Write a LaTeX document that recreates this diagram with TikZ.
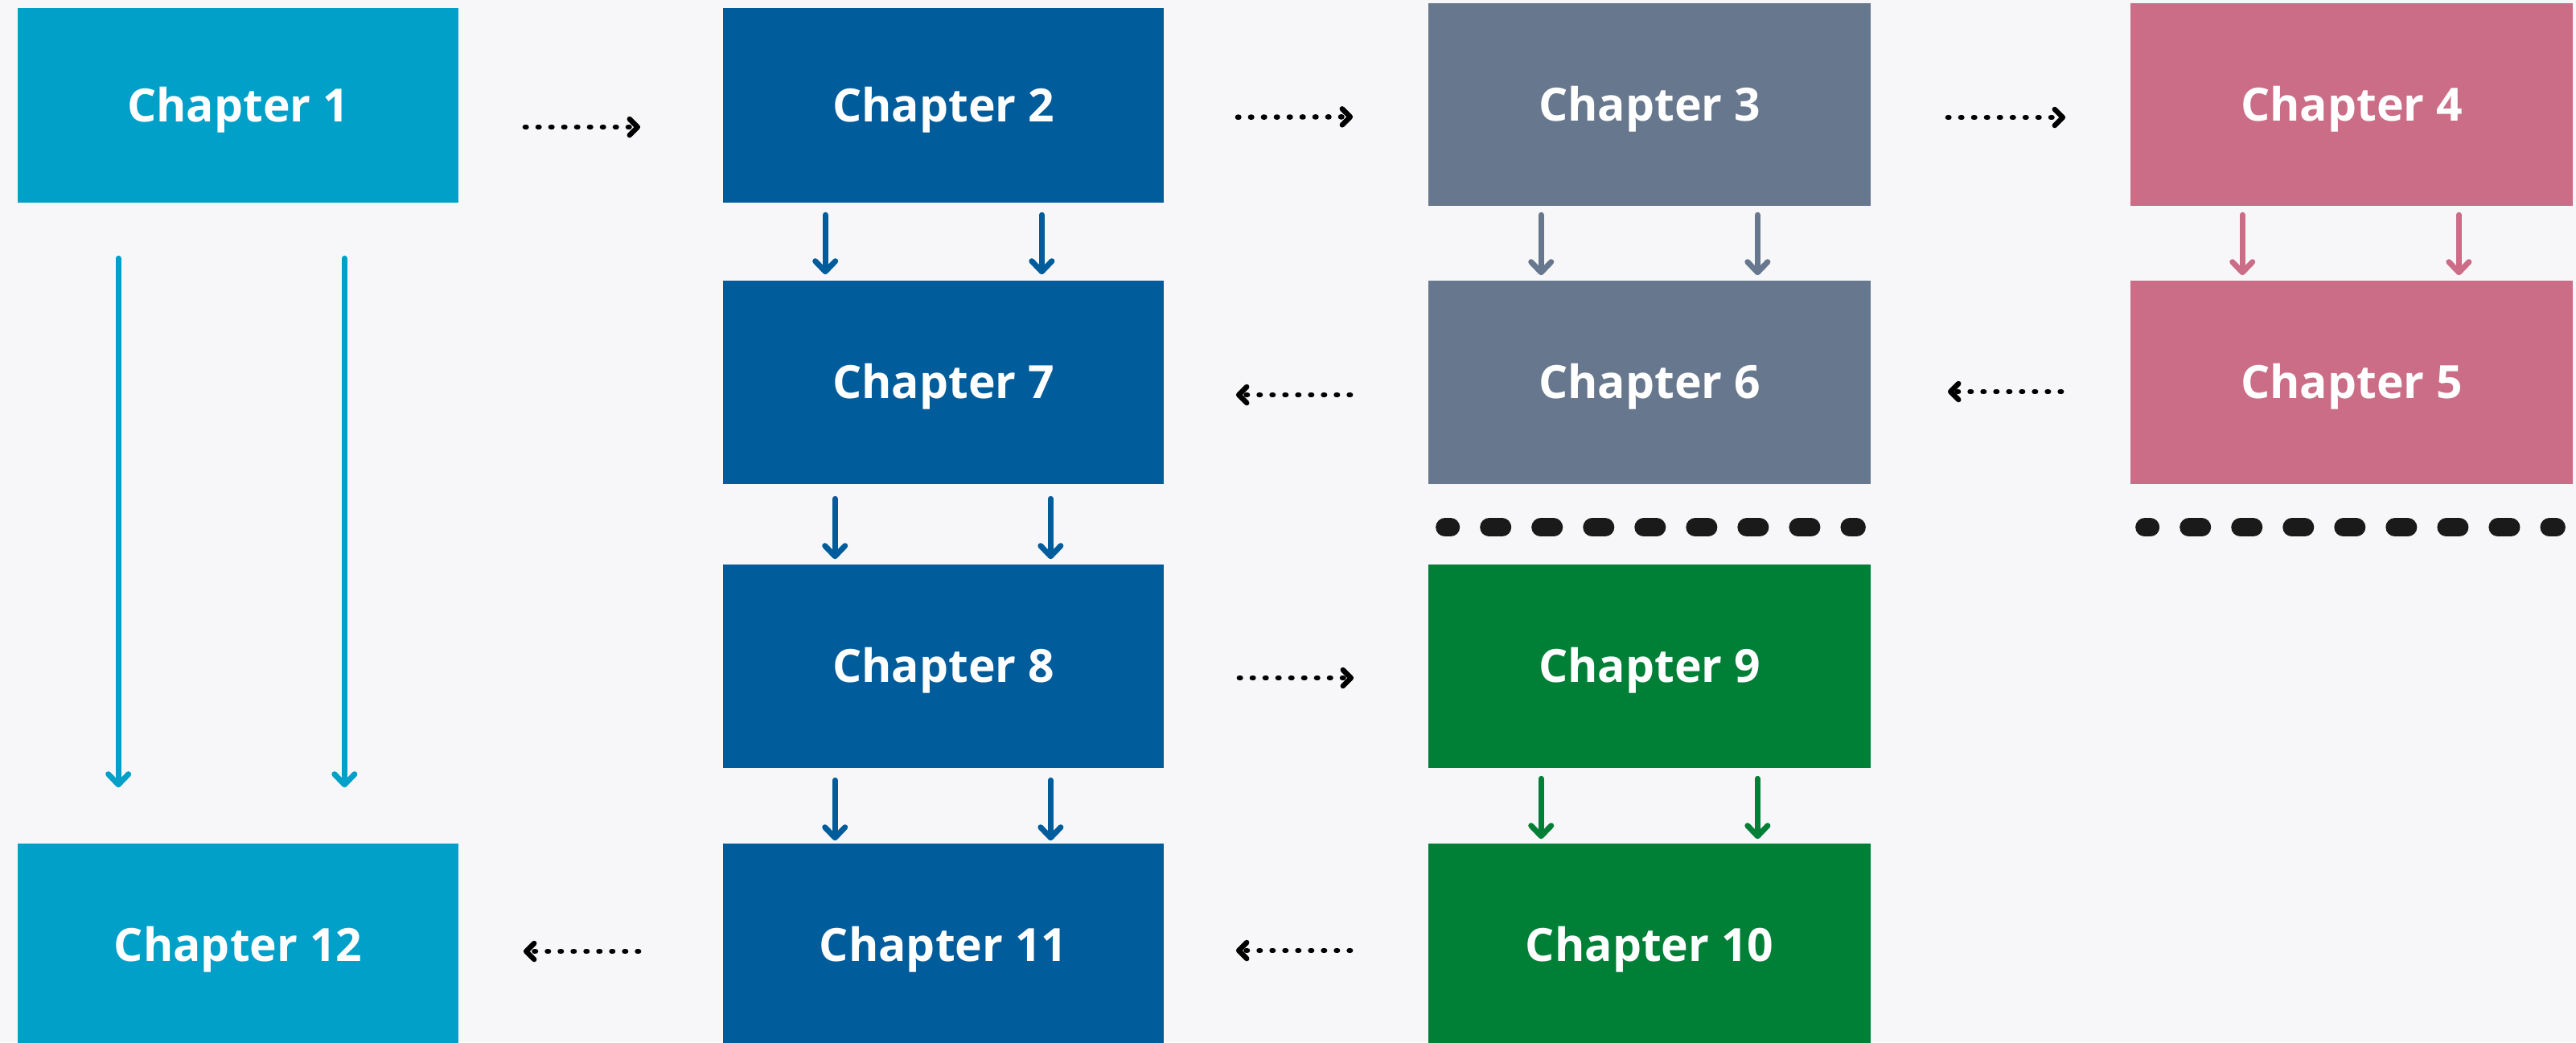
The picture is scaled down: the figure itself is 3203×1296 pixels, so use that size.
\documentclass[tikz,border=0pt]{standalone}
\usepackage{fontspec}
\setmainfont{Open Sans}
\usetikzlibrary{arrows.meta}
\definecolor{bgc}{HTML}{F7F7F9}
\definecolor{cA}{HTML}{00A0C8}
\definecolor{cB}{HTML}{005C9B}
\definecolor{cC}{HTML}{67778E}
\definecolor{cD}{HTML}{CB6D86}
\definecolor{cE}{HTML}{007F37}
\definecolor{dk}{HTML}{1A1A1A}
\begin{document}
\begin{tikzpicture}[x=0.01cm,y=-0.01cm,
  box/.style={rectangle, inner sep=0pt, text=white,
    font=\fontsize{16.2}{19}\selectfont\bfseries,
    text height=0.407cm, text depth=0pt},
  wbox/.style={box, minimum width=5.48cm},
  wboxb/.style={box, minimum width=5.50cm},
  sarrow/.style={line width=0.07cm, line cap=round,
    -{Straight Barb[length=0.13cm,width=0.25cm,round]}},
  darrow/.style={line width=0.065cm, line cap=round, black,
    dash pattern=on 0.015cm off 0.145cm,
    -{Straight Barb[length=0.1cm,width=0.2cm,round]}},
  bigdash/.style={line width=0.23cm, line cap=round, dk,
    dash pattern=on 0.16cm off 0.48cm, dash phase=0.09cm}]
\fill[bgc] (0,0) rectangle (3203,1296);
\useasboundingbox (0,0) rectangle (3203,1296);

% boxes
\node[wbox, fill=cA, minimum height=2.42cm] (ch1) at (296,131) {Chapter 1};
\node[wbox, fill=cB, minimum height=2.42cm] (ch2) at (1173,131) {Chapter 2};
\node[wboxb, fill=cC, minimum height=2.52cm] (ch3) at (2051,130) {Chapter 3};
\node[wboxb, fill=cD, minimum height=2.52cm] (ch4) at (2924,130) {Chapter 4};
\node[wbox, fill=cB, minimum height=2.53cm] (ch7) at (1173,475.5) {Chapter 7};
\node[wboxb, fill=cC, minimum height=2.53cm] (ch6) at (2051,475.5) {Chapter 6};
\node[wboxb, fill=cD, minimum height=2.53cm] (ch5) at (2924,475.5) {Chapter 5};
\node[wbox, fill=cB, minimum height=2.53cm] (ch8) at (1173,828.5) {Chapter 8};
\node[wboxb, fill=cE, minimum height=2.53cm] (ch9) at (2051,828.5) {Chapter 9};
\node[wbox, fill=cA, minimum height=2.53cm] (ch12) at (296,1175.5) {Chapter 12};
\node[wbox, fill=cB, minimum height=2.53cm] (ch11) at (1173,1175.5) {Chapter 11};
\node[wboxb, fill=cE, minimum height=2.53cm] (ch10) at (2051,1175.5) {Chapter 10};

% solid vertical arrows
\draw[sarrow, cA, shorten <=0.685cm, shorten >=0.69cm] ([xshift=1.26cm]ch1.south west) -- ([xshift=1.26cm]ch12.north west);
\draw[sarrow, cA, shorten <=0.685cm, shorten >=0.69cm] ([xshift=4.07cm]ch1.south west) -- ([xshift=4.07cm]ch12.north west);

\draw[sarrow, cB, shorten <=0.145cm, shorten >=0.07cm] ([xshift=1.28cm]ch2.south west) -- ([xshift=1.28cm]ch7.north west);
\draw[sarrow, cB, shorten <=0.145cm, shorten >=0.07cm] ([xshift=3.97cm]ch2.south west) -- ([xshift=3.97cm]ch7.north west);
\draw[sarrow, cB, shorten <=0.175cm, shorten >=0.06cm] ([xshift=1.40cm]ch7.south west) -- ([xshift=1.40cm]ch8.north west);
\draw[sarrow, cB, shorten <=0.175cm, shorten >=0.06cm] ([xshift=4.08cm]ch7.south west) -- ([xshift=4.08cm]ch8.north west);
\draw[sarrow, cB, shorten <=0.145cm, shorten >=0.03cm] ([xshift=1.40cm]ch8.south west) -- ([xshift=1.40cm]ch11.north west);
\draw[sarrow, cB, shorten <=0.145cm, shorten >=0.03cm] ([xshift=4.08cm]ch8.south west) -- ([xshift=4.08cm]ch11.north west);

\draw[sarrow, cC, shorten <=0.105cm, shorten >=0.06cm] ([xshift=1.41cm]ch3.south west) -- ([xshift=1.41cm]ch6.north west);
\draw[sarrow, cC, shorten <=0.105cm, shorten >=0.06cm] ([xshift=4.10cm]ch3.south west) -- ([xshift=4.10cm]ch6.north west);
\draw[sarrow, cE, shorten <=0.125cm, shorten >=0.05cm] ([xshift=1.41cm]ch9.south west) -- ([xshift=1.41cm]ch10.north west);
\draw[sarrow, cE, shorten <=0.125cm, shorten >=0.05cm] ([xshift=4.10cm]ch9.south west) -- ([xshift=4.10cm]ch10.north west);

\draw[sarrow, cD, shorten <=0.105cm, shorten >=0.06cm] ([xshift=1.40cm]ch4.south west) -- ([xshift=1.40cm]ch5.north west);
\draw[sarrow, cD, shorten <=0.105cm, shorten >=0.06cm] ([xshift=4.09cm]ch4.south west) -- ([xshift=4.09cm]ch5.north west);

% dotted horizontal arrows
\draw[darrow, shorten <=0.82cm, shorten >=1.02cm] ([yshift=-0.27cm]ch1.east) -- ([yshift=-0.27cm]ch2.west);
\draw[darrow, shorten <=0.91cm, shorten >=0.93cm] ([yshift=-0.15cm]ch2.east) -- ([yshift=-0.15cm]ch3.west);
\draw[darrow, shorten <=0.95cm, shorten >=0.80cm] ([yshift=-0.16cm]ch3.east) -- ([yshift=-0.16cm]ch4.west);
\draw[darrow, shorten <=0.96cm, shorten >=0.89cm] ([yshift=-0.155cm]ch6.west) -- ([yshift=-0.155cm]ch7.east);
\draw[darrow, shorten <=0.85cm, shorten >=0.95cm] ([yshift=-0.115cm]ch5.west) -- ([yshift=-0.115cm]ch6.east);
\draw[darrow, shorten <=0.93cm, shorten >=0.92cm] ([yshift=-0.145cm]ch8.east) -- ([yshift=-0.145cm]ch9.west);
\draw[darrow, shorten <=0.96cm, shorten >=0.89cm] ([yshift=-0.065cm]ch10.west) -- ([yshift=-0.065cm]ch11.east);
\draw[darrow, shorten <=1.04cm, shorten >=0.80cm] ([yshift=-0.075cm]ch11.west) -- ([yshift=-0.075cm]ch12.east);

% thick dashed separators
\draw[bigdash] ([xshift=0.215cm,yshift=-0.53cm]ch6.south west) -- ([xshift=-0.185cm,yshift=-0.53cm]ch6.south east);
\draw[bigdash] ([xshift=0.185cm,yshift=-0.53cm]ch5.south west) -- ([xshift=-0.215cm,yshift=-0.53cm]ch5.south east);
\end{tikzpicture}
\end{document}
